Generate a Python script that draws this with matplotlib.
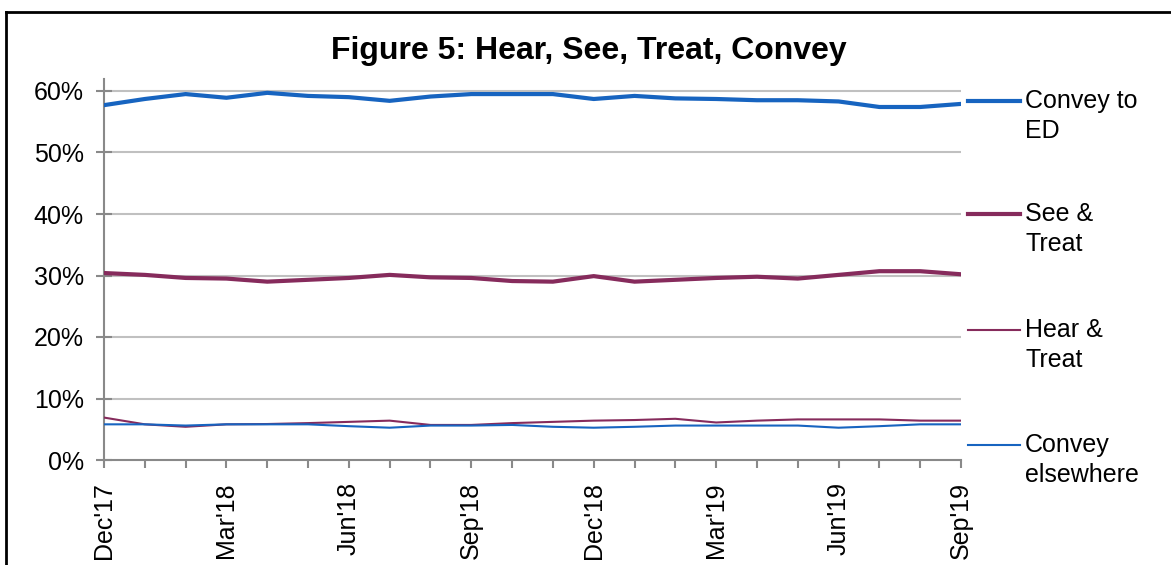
import matplotlib
matplotlib.use('Agg')
from matplotlib import pyplot as plt
from matplotlib.lines import Line2D
from matplotlib.ticker import PercentFormatter

months = ["Dec'17", "Jan'18", "Feb'18", "Mar'18", "Apr'18", "May'18", "Jun'18",
          "Jul'18", "Aug'18", "Sep'18", "Oct'18", "Nov'18", "Dec'18", "Jan'19",
          "Feb'19", "Mar'19", "Apr'19", "May'19", "Jun'19", "Jul'19", "Aug'19", "Sep'19"]

convey_ed = [57.7, 58.7, 59.5, 58.9, 59.7, 59.2, 59.0, 58.4, 59.1, 59.5, 59.5,
             59.5, 58.7, 59.2, 58.8, 58.7, 58.5, 58.5, 58.3, 57.4, 57.4, 57.9]
see_treat = [30.4, 30.1, 29.6, 29.5, 29.0, 29.3, 29.6, 30.1, 29.7, 29.6, 29.1,
             29.0, 29.9, 29.0, 29.3, 29.6, 29.8, 29.5, 30.1, 30.7, 30.7, 30.2]
hear_treat = [6.9, 5.8, 5.4, 5.8, 5.85, 6.0, 6.2, 6.4, 5.7, 5.7, 6.0,
              6.2, 6.4, 6.5, 6.7, 6.1, 6.4, 6.6, 6.6, 6.6, 6.4, 6.4]
convey_else = [5.8, 5.8, 5.6, 5.8, 5.8, 5.8, 5.5, 5.25, 5.6, 5.6, 5.7,
               5.4, 5.25, 5.4, 5.6, 5.6, 5.6, 5.6, 5.25, 5.5, 5.8, 5.8]

series_names = ["Convey to\nED", "See &\nTreat", "Hear &\nTreat", "Convey\nelsewhere"]

blue = '#1764C0'
maroon = '#862B5C'
grey = '#898989'

plt.rcParams['font.family'] = ['Liberation Sans', 'DejaVu Sans']

fig = plt.figure(figsize=(11.71, 5.65), dpi=100)
ax = fig.add_axes([104 / 1171, 1 - 460 / 565, 857 / 1171, (460 - 78.7) / 565])

x = list(range(len(months)))
styles = [(convey_ed, blue, 3.0), (see_treat, maroon, 3.0),
          (hear_treat, maroon, 1.5), (convey_else, blue, 1.5)]
for vals, col, lw in styles:
    ax.plot(x, vals, color=col, lw=lw, solid_joinstyle='round', zorder=3)

ax.set_xlim(0, len(months) - 1)
ax.set_ylim(0, 62)
ax.set_yticks(range(0, 61, 10))
ax.yaxis.set_major_formatter(PercentFormatter(decimals=0))
for v in range(10, 61, 10):
    ax.axhline(v, color='#C0C0C0', lw=1.5, zorder=1)

ax.set_xticks(x)
ax.set_xticklabels([m if i % 3 == 0 else '' for i, m in enumerate(months)],
                   rotation=90, fontsize=18)
ax.tick_params(axis='x', direction='out', length=6, width=1.5, color=grey, pad=10)
ax.tick_params(axis='y', direction='inout', length=11, width=1.5, color=grey,
               pad=9, labelsize=18)

for s in ['top', 'right']:
    ax.spines[s].set_visible(False)
for s in ['left', 'bottom']:
    ax.spines[s].set_color(grey)
    ax.spines[s].set_linewidth(1.5)

fig.text(589 / 1171, 1 - 51 / 565, "Figure 5: Hear, See, Treat, Convey",
         ha='center', va='center', fontsize=23, fontweight='bold')

# legend down the right side
leg_y = [101, 214, 330, 445]
for (vals, col, lw), name, yy in zip(styles, series_names, leg_y):
    yf = 1 - yy / 565
    fig.add_artist(Line2D([968 / 1171, 1020 / 1171], [yf, yf], color=col, lw=lw))
    fig.text(1025 / 1171, 1 - (yy - 12) / 565, name, ha='left', va='top',
             fontsize=18, linespacing=1.32)

# frame round the chart (left and top edges visible)
fig.add_artist(Line2D([6 / 1171, 6 / 1171], [0, 1 - 12 / 565], color='black', lw=2))
fig.add_artist(Line2D([6 / 1171, 1], [1 - 12 / 565, 1 - 12 / 565], color='black', lw=2))

fig.savefig('out.png', dpi=100)
